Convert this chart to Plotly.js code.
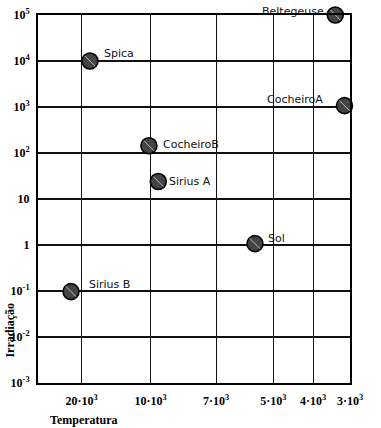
<!DOCTYPE html>
<html>
<head>
<meta charset="utf-8">
<script src="https://cdn.plot.ly/plotly-3.0.1.min.js"></script>
<style>html,body{margin:0;padding:0;background:#fff;}#chart{width:381px;height:428px;}</style>
</head>
<body>
<div id="chart"></div>
<script>
// ---- data ----
var stars = ["Spica", "CocheiroB", "Sirius A", "Sol", "Sirius B", "Beltegeuse", "CocheiroA"];
var temperature = [18800, 10250, 9650, 5640, 21550, 3400, 3150];
var irradiation = [1.0e4, 144, 24, 1.07, 0.097, 1.0e5, 1070];
var xTickTemps = [20000, 10000, 7000, 5000, 4000, 3000];
var xTickLabels = ["20·10<sup>3</sup>", "10·10<sup>3</sup>", "7·10<sup>3</sup>", "5·10<sup>3</sup>", "4·10<sup>3</sup>", "3·10<sup>3</sup>"];
var yTickVals = [1e-3, 1e-2, 1e-1, 1, 10, 1e2, 1e3, 1e4, 1e5];
var yTickLabels = ["10<sup>-3</sup>", "10<sup>-2</sup>", "10<sup>-1</sup>", "1", "10", "10<sup>2</sup>", "10<sup>3</sup>", "10<sup>4</sup>", "10<sup>5</sup>"];

// ---- hand-drawn (non-uniform) temperature scale: axis units of the grid lines ----
var xTickAxis = [14.0, 36.1, 57.1, 75.4, 88.2, 100];
function tempToAxis(t) {
  var n = xTickTemps.length;
  var i = 0;
  if (t >= xTickTemps[0]) { i = 0; }
  else if (t <= xTickTemps[n - 1]) { i = n - 2; }
  else { while (i < n - 2 && t < xTickTemps[i + 1]) i++; }
  var t0 = xTickTemps[i], t1 = xTickTemps[i + 1];
  var a0 = xTickAxis[i], a1 = xTickAxis[i + 1];
  return a0 + (t - t0) / (t1 - t0) * (a1 - a0);
}
var xs = temperature.map(tempToAxis);

// label placement (style): [xshift, yshift, anchor]
var labelPlace = [
  [12, 8, "left"], [12, 1, "left"], [9, 0, "left"], [11, 5, "left"],
  [16, 7, "left"], [-9, 4, "right"], [-19, 6, "right"]
];

var labelFont = {family: "DejaVu Sans, sans-serif", size: 11, color: "#111"};
var annotations = stars.map(function (s, i) {
  return {
    x: xs[i], y: Math.log10(irradiation[i]), xref: "x", yref: "y",
    text: s, showarrow: false, xanchor: labelPlace[i][2], yanchor: "middle",
    xshift: labelPlace[i][0], yshift: labelPlace[i][1], font: labelFont
  };
});
var titleFont = {family: "Liberation Serif, serif", size: 12, color: "#000", weight: "bold"};
annotations.push({
  xref: "paper", yref: "paper", x: -0.09, y: 0.145, text: "<b>Irradiação</b>",
  textangle: -90, showarrow: false, xanchor: "center", yanchor: "middle", font: titleFont
});
annotations.push({
  xref: "paper", yref: "paper", x: 0.146, y: -0.10, text: "<b>Temperatura</b>",
  showarrow: false, xanchor: "center", yanchor: "middle", font: titleFont
});

var trace = {
  type: "scatter", mode: "markers", x: xs, y: irradiation,
  marker: {symbol: "circle", size: 16, color: "#444", line: {color: "#000", width: 1.6}},
  cliponaxis: false, hoverinfo: "skip"
};
var hatch = {
  type: "scatter", mode: "markers", x: xs, y: irradiation,
  marker: {symbol: "line-nw", size: 10, color: "#bbb", line: {color: "#bbb", width: 1}},
  cliponaxis: false, hoverinfo: "skip"
};

var tickFont = {family: "Liberation Serif, serif", size: 12, color: "#000", weight: "bold"};
var layout = {
  width: 381, height: 428,
  margin: {l: 38, r: 31, t: 15, b: 45, pad: 0},
  paper_bgcolor: "#fff", plot_bgcolor: "#fff",
  showlegend: false,
  font: {family: "Liberation Serif, serif"},
  xaxis: {
    type: "linear", range: [0, 100], tickmode: "array",
    tickvals: xTickTemps.map(tempToAxis), ticktext: xTickLabels,
    showgrid: true, gridcolor: "#111", gridwidth: 1.2, zeroline: false,
    showline: true, linecolor: "#000", linewidth: 2, mirror: true,
    ticks: "", tickfont: tickFont, ticklabelstandoff: 6
  },
  yaxis: {
    type: "log", range: [-3, 5], tickmode: "array",
    tickvals: yTickVals, ticktext: yTickLabels,
    showgrid: true, gridcolor: "#111", gridwidth: 1.2, zeroline: false,
    showline: true, linecolor: "#000", linewidth: 2, mirror: true,
    ticks: "", tickfont: tickFont, ticklabelstandoff: 4
  },
  annotations: annotations
};
Plotly.newPlot("chart", [trace, hatch], layout, {displayModeBar: false, staticPlot: true});
</script>
</body>
</html>
